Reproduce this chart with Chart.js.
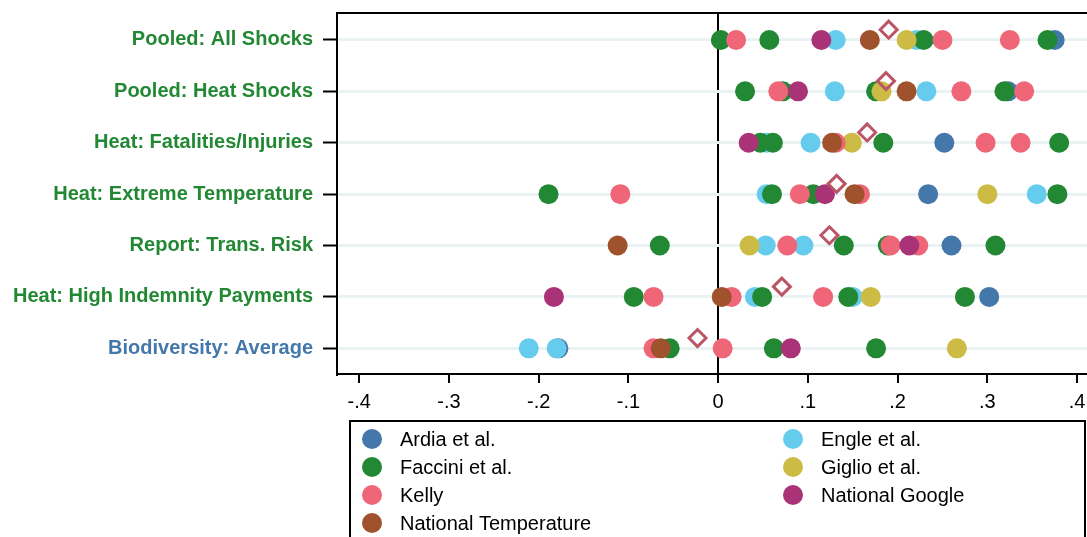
<!DOCTYPE html>
<html>
<head>
<meta charset="utf-8">
<script src="https://cdn.jsdelivr.net/npm/chart.js@4"></script>
<style>
  body { margin: 0; background: #fff; overflow: hidden; }
  #wrap { width: 1087px; height: 537px; }
</style>
</head>
<body>
<div id="wrap"><canvas id="canvas" width="1087" height="537"></canvas></div>
<script>
// rows, top to bottom
const rowLabels = [
  "Pooled: All Shocks",
  "Pooled: Heat Shocks",
  "Heat: Fatalities/Injuries",
  "Heat: Extreme Temperature",
  "Report: Trans. Risk",
  "Heat: High Indemnity Payments",
  "Biodiversity: Average"
];
const xTicks = [-0.4, -0.3, -0.2, -0.1, 0, 0.1, 0.2, 0.3, 0.4];

// one list per row for each source
const ardia = [[0.375], [0.323], [0.252], [0.234], [0.260], [0.302], [-0.178]];
const engle = [[0.131, 0.221], [0.130, 0.232], [0.054, 0.103], [0.054, 0.355], [0.053, 0.095], [0.041, 0.150], [-0.211, -0.180]];
const faccini = [[0.003, 0.057, 0.229, 0.367], [0.030, 0.072, 0.176, 0.319], [0.047, 0.061, 0.184, 0.380],
  [-0.189, 0.060, 0.106, 0.378], [-0.065, 0.140, 0.189, 0.309], [-0.094, 0.049, 0.145, 0.275], [-0.054, 0.062, 0.176]];
const giglio = [[0.210], [0.182], [0.149], [0.300], [0.035], [0.170], [0.266]];
const kelly = [[0.020, 0.250, 0.325], [0.067, 0.271, 0.341], [0.131, 0.298, 0.337], [-0.109, 0.091, 0.158],
  [0.077, 0.192, 0.223], [-0.072, 0.015, 0.117], [-0.072, 0.005]];
const natGoogle = [[0.115], [0.089], [0.034], [0.119], [0.213], [-0.183], [0.081]];
const natTemp = [[0.169], [0.210], [0.127], [0.152], [-0.112], [0.004], [-0.064]];
const rowMeans = [0.190, 0.187, 0.166, 0.132, 0.124, 0.071, -0.023];

const sources = [
  { name: "Ardia et al.", rows: ardia, color: "#4477AA" },
  { name: "Engle et al.", rows: engle, color: "#66CCEE" },
  { name: "Faccini et al.", rows: faccini, color: "#228833" },
  { name: "Giglio et al.", rows: giglio, color: "#CCBB44" },
  { name: "Kelly", rows: kelly, color: "#EE6677" },
  { name: "National Google", rows: natGoogle, color: "#AA3377" },
  { name: "National Temperature", rows: natTemp, color: "#A0522D" }
];

const FONT = "'Liberation Sans', Arial, sans-serif";

const datasets = [];
datasets.push({
  label: "mean",
  data: rowMeans.map((v, i) => ({ x: v, y: i + 1 - 0.2 })),
  pointStyle: "rectRot",
  pointRadius: 8.5,
  borderWidth: 3,
  borderColor: "#BB5566",
  backgroundColor: "rgba(255,255,255,0)",
  order: 0
});
sources.forEach((s, i) => {
  const pts = [];
  s.rows.forEach((vals, r) => vals.forEach(v => pts.push({ x: v, y: r + 1 })));
  datasets.push({
    label: s.name,
    data: pts,
    pointStyle: "circle",
    pointRadius: 10,
    borderWidth: 0,
    backgroundColor: s.color,
    borderColor: s.color,
    order: sources.length - i
  });
});

// legend in two columns, filled column by column like the original
const boxLegend = {
  id: "boxLegend",
  afterDraw(chart) {
    const ctx = chart.ctx;
    const left = 350, top = 421, right = 1085;
    ctx.save();
    ctx.strokeStyle = "#000";
    ctx.lineWidth = 2;
    ctx.strokeRect(left, top, right - left, 200);
    ctx.font = "20px " + FONT;
    ctx.textBaseline = "middle";
    sources.forEach((s, i) => {
      const col = i % 2, row = Math.floor(i / 2);
      const mx = col === 0 ? 372 : 793;
      const my = 439 + row * 28;
      ctx.beginPath();
      ctx.arc(mx, my, 10, 0, Math.PI * 2);
      ctx.fillStyle = s.color;
      ctx.fill();
      ctx.fillStyle = "#000";
      ctx.fillText(s.name, mx + 28, my + 1);
    });
    ctx.restore();
  }
};

new Chart(document.getElementById("canvas"), {
  type: "scatter",
  data: { datasets: datasets },
  options: {
    responsive: false,
    animation: false,
    events: [],
    layout: { autoPadding: false, padding: { top: 13, right: 0, left: 0, bottom: 0 } },
    plugins: { legend: { display: false }, tooltip: { enabled: false } },
    scales: {
      x: {
        type: "linear",
        min: -0.4247,
        max: 0.411,
        afterBuildTicks: s => { s.ticks = xTicks.map(v => ({ value: v })); },
        afterFit: s => { s.height = 163; s.paddingLeft = 0; s.paddingRight = 0; },
        border: { display: true, color: "#000", width: 2 },
        grid: {
          drawOnChartArea: true,
          color: c => (c.tick && c.tick.value === 0 ? "#000" : "rgba(0,0,0,0)"),
          lineWidth: 2,
          drawTicks: true,
          tickLength: 9,
          tickColor: "#000",
          tickWidth: 2
        },
        ticks: {
          color: "#000",
          padding: 7,
          maxRotation: 0,
          font: { family: FONT, size: 20 },
          callback: v => (v === 0 ? "0" : (v < 0 ? "-" : "") + Math.abs(v).toFixed(1).replace(/^0/, ""))
        }
      },
      y: {
        type: "linear",
        reverse: true,
        min: 0.475,
        max: 7.5,
        afterBuildTicks: s => { s.ticks = rowLabels.map((_, i) => ({ value: i + 1 })); },
        afterFit: s => { s.width = 337; s.paddingTop = 0; s.paddingBottom = 0; },
        border: { display: true, color: "#000", width: 2 },
        grid: {
          color: "#EAF2F3",
          lineWidth: 3,
          drawTicks: true,
          tickLength: 14,
          tickColor: "#000",
          tickWidth: 2
        },
        ticks: {
          padding: 10,
          font: { family: FONT, size: 20, weight: "bold" },
          color: c => (c.tick && c.tick.value === 7 ? "#4477AA" : "#228833"),
          callback: v => rowLabels[v - 1]
        }
      }
    }
  },
  plugins: [boxLegend, {
    id: "topLine",
    afterDraw(chart) {
      const a = chart.chartArea, ctx = chart.ctx;
      ctx.save();
      ctx.strokeStyle = "#000";
      ctx.lineWidth = 2;
      ctx.beginPath();
      ctx.moveTo(a.left, a.top);
      ctx.lineTo(a.right, a.top);
      ctx.stroke();
      ctx.restore();
    }
  }]
});
</script>
</body>
</html>
